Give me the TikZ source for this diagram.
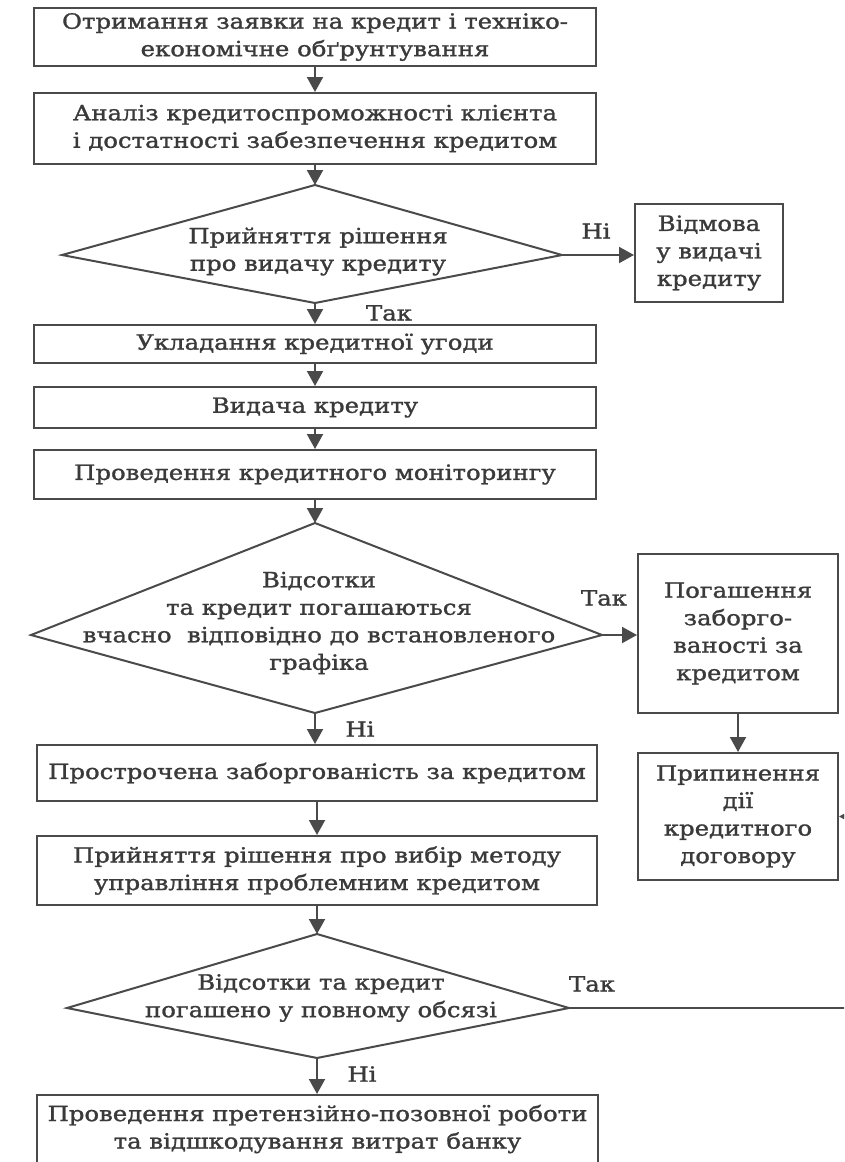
\documentclass[tikz,border=0pt]{standalone}
\usepackage{fontspec}
\setmainfont{DejaVu Serif}[FakeStretch=1.16, FakeBold=1.3]
\usetikzlibrary{arrows.meta}
\definecolor{ln}{HTML}{4A4A4A}
\definecolor{txt}{HTML}{3A3A3A}
\begin{document}
\begin{tikzpicture}[x=1pt,y=-1pt,
  every node/.style={font=\fontsize{21}{27.5}\selectfont, text=txt, align=center, inner sep=0pt},
  box/.style={draw=ln, line width=2pt},
  ln/.style={draw=ln, line width=2pt},
  arr/.style={ln, -{Triangle[width=16pt,length=15pt]}},
  lbl/.style={anchor=center}]
\useasboundingbox (0,0) rectangle (844,1162);
\fill[white] (0,0) rectangle (844,1162);
\clip (0,0) rectangle (844,1162);

% boxes
\node[box, minimum width=562pt, minimum height=58pt] (b1) at (315,37) {Отримання заявки на кредит і техніко-\\економічне обґрунтування};
\node[box, minimum width=562pt, minimum height=71pt] (b2) at (315,128.5) {Аналіз кредитоспроможності клієнта\\і достатності забезпечення кредитом};

% diamond 1
\coordinate (d1t) at (315,185);
\coordinate (d1l) at (62,255);
\coordinate (d1r) at (562,255);
\coordinate (d1b) at (315,303);
\draw[ln, line join=miter] (d1t) -- (d1r) -- (d1b) -- (d1l) -- cycle;
\node (d1x) at (318,251.5) {Прийняття рішення\\про видачу кредиту};

\node[box, minimum width=148pt, minimum height=98pt] (rej) at (709,253) {Відмова\\у видачі\\кредиту};
\node[lbl] (l1) at (596,231) {Ні};

\node[box, minimum width=562pt, minimum height=38pt] (b3) at (315,344) {Укладання кредитної угоди};
\node[lbl] (l2) at (389,313) {Так};
\node[box, minimum width=562pt, minimum height=41pt] (b4) at (315,407.5) {Видача кредиту};
\node[box, minimum width=562pt, minimum height=49pt] (b5) at (315,474.5) {Проведення кредитного моніторингу};

% diamond 2
\coordinate (d2t) at (315,523);
\coordinate (d2l) at (31,635);
\coordinate (d2r) at (602,635);
\coordinate (d2b) at (315,713);
\draw[ln, line join=miter] (d2t) -- (d2r) -- (d2b) -- (d2l) -- cycle;
\node (d2x) at (319,623) {Відсотки\\та кредит погашаються\\вчасно\ \ відповідно до встановленого\\графіка};
\node[lbl] (l3) at (604,598) {Так};

\node[box, minimum width=200pt, minimum height=159pt] (pay) at (738,633.5) {Погашення\\заборго-\\ваності за\\кредитом};
\node[box, minimum width=200pt, minimum height=127pt] (stop) at (738,816.5) {Припинення\\дії\\кредитного\\договору};

\node[lbl] (l4) at (360,729) {Ні};
\node[box, minimum width=560pt, minimum height=56pt] (b6) at (317,773) {Прострочена заборгованість за кредитом};
\node[box, minimum width=560pt, minimum height=69pt] (b7) at (317,870.5) {Прийняття рішення про вибір методу\\управління проблемним кредитом};

% diamond 3
\coordinate (d3t) at (317,934);
\coordinate (d3l) at (67,1008);
\coordinate (d3r) at (569,1008);
\coordinate (d3b) at (317,1058);
\draw[ln, line join=miter] (d3t) -- (d3r) -- (d3b) -- (d3l) -- cycle;
\node (d3x) at (321,998) {Відсотки та кредит\\погашено у повному обсязі};
\node[lbl] (l5) at (592,984) {Так};
\node[lbl] (l6) at (362,1074) {Ні};

\node[box, minimum width=561pt, minimum height=68pt] (b8) at (317.5,1129) {Проведення претензійно-позовної роботи\\та відшкодування витрат банку};

\coordinate (ex) at (872,0);

% connectors
\draw[arr] (b1.south) -- (b2.north);
\draw[arr] (b2.south) -- (d1t);
\draw[arr] (d1r) -- (d1r -| rej.west);
\draw[arr] (d1b) -- (b3.north);
\draw[arr] (b3.south) -- (b4.north);
\draw[arr] (b4.south) -- (b5.north);
\draw[arr] (b5.south) -- (d2t);
\draw[arr] (d2r) -- (d2r -| pay.west);
\draw[arr] (pay.south) -- (stop.north);
\draw[arr] (d2b) -- (d2b |- b6.north);
\draw[arr] (b6.south) -- (b7.north);
\draw[arr] (b7.south) -- (d3t);
\draw[arr] (d3b) -- (d3b |- b8.north);
\draw[arr] (d3r) -- (d3r -| ex) |- (stop.east);
\end{tikzpicture}
\end{document}
